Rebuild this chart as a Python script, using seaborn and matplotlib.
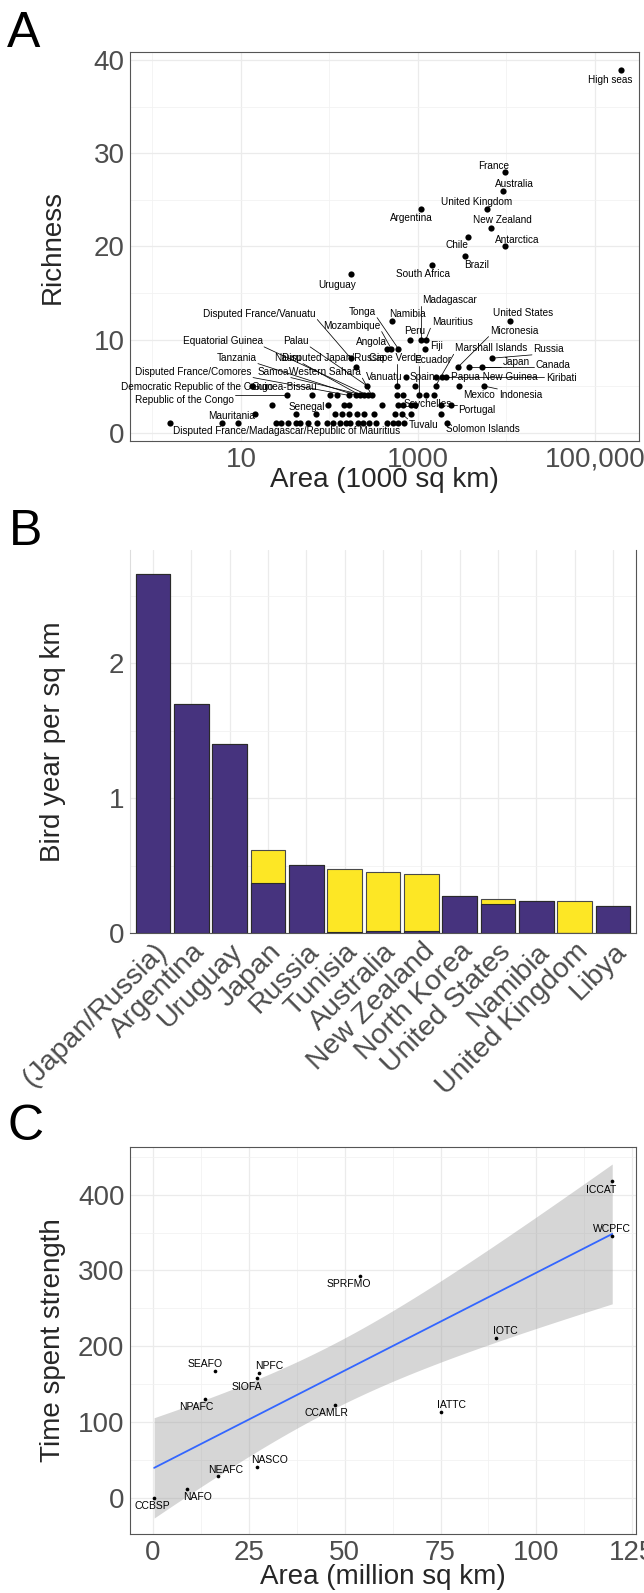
import numpy as np
import pandas as pd
import matplotlib
matplotlib.use("Agg")
import matplotlib.pyplot as plt
from matplotlib.ticker import FixedLocator, NullFormatter
import seaborn as sns

# ---------------- panel A: richness vs area (1000 sq km) ----------------
area_a = [1.58, 6.17, 9.33, 25.1, 28.2, 33.9, 41.7, 46.8, 57.5, 72.4, 93.3, 110, 132, 155, 170,
          209, 240, 282, 339, 447, 525, 589, 692, 2138,
          14.5, 41.7, 70.8, 117, 138, 166, 204, 245, 316, 550, 661, 832, 1820,
          22.4, 95.5, 145, 166, 398, 589, 676, 832, 933, 1820, 2399,
          33.1, 63.1, 102, 123, 166, 200, 224, 245, 275, 302, 575, 676, 1023, 1230, 1514,
          13.2, 269, 575, 933, 1585, 2951, 5623,
          741, 1585, 1862, 2089,
          200, 2818, 3802, 5370,
          174, 6918,
          447, 501, 603, 1202,
          813, 1096, 1230,
          513, 10965,
          174, 1429, 3388, 9772, 3715, 6761, 1072, 6026, 9120, 9772, 199526]
rich_a = [1] * 24 + [2] * 13 + [3] * 11 + [4] * 15 + [5] * 7 + [6] * 4 + [7] * 4 + [8] * 2 \
         + [9] * 4 + [10] * 3 + [12] * 2 + [17, 18, 19, 20, 21, 22, 24, 24, 26, 28, 39]

lab_name = ["High seas", "France", "Australia", "United Kingdom", "Argentina", "New Zealand",
            "Chile", "Antarctica", "Brazil", "South Africa", "Uruguay", "Madagascar",
            "Disputed France/Vanuatu", "Tonga", "Namibia", "United States", "Mauritius",
            "Mozambique", "Peru", "Micronesia", "Equatorial Guinea", "Palau", "Angola", "Fiji",
            "Marshall Islands", "Russia", "Tanzania", "Nauru", "Disputed Japan/Russia",
            "Cape Verde", "Ecuador", "Japan", "Canada", "Disputed France/Comores", "Samoa",
            "Western Sahara", "Vanuatu", "Spain", "Papua New Guinea", "Kiribati",
            "Democratic Republic of the Congo", "Guinea-Bissau", "Mexico", "Indonesia",
            "Republic of the Congo", "Seychelles", "Senegal", "Portugal", "Mauritania",
            "Tuvalu", "Solomon Islands", "Disputed France/Madagascar/Republic of Mauritius"]
lab_area = [199526, 9772, 9120, 6026, 1072, 6761, 3715, 9772, 3388, 1429, 174, 1096,
            174, 603, 513, 10965, 1230, 501, 813, 2818, 275, 269, 447, 1202,
            1585, 6918, 200, 224, 200, 575, 1023, 3802, 5370, 166, 245,
            302, 741, 1585, 1862, 2089, 13.2, 63.1, 2951, 5623,
            33.1, 1820, 95.5, 2399, 14.5, 661, 2138, 1.58]
lab_rich = [39, 28, 26, 24, 24, 22, 21, 20, 19, 18, 17, 10,
            8, 9, 12, 12, 10, 9, 10, 7, 4, 5, 9, 9,
            5, 8, 4, 4, 7, 5, 4, 7, 7, 4, 4,
            4, 6, 6, 6, 6, 5, 4, 5, 5,
            4, 3, 3, 3, 2, 2, 1, 1]
# where ggrepel put each label
lab_tx = [150000, 7244, 12303, 4571, 851, 9120, 2754, 13183, 4677, 1148, 123, 2291,
          16.2, 234, 759, 15488, 2455, 178, 933, 12303, 6.2, 41.7, 302, 1622,
          6761, 30200, 8.9, 33.9, 110, 550, 1479, 12882, 33884, 2.9, 23.4,
          89, 417, 1122, 7244, 41687, 3.2, 30.9, 4898, 14454,
          2.3, 1288, 55, 4677, 7.9, 1175, 5495, 32.4]
lab_ty = [37.85, 28.7, 26.7, 24.8, 23.1, 22.8, 20.2, 20.75, 17.96, 17.06, 15.9, 14.3,
          12.8, 13.0, 12.76, 12.9, 11.86, 11.5, 10.96, 10.96, 9.86, 9.86, 9.78, 9.35,
          9.06, 9.0, 8.06, 8.06, 8.06, 8.06, 7.8, 7.6, 7.3, 6.56, 6.56,
          6.5, 6.0, 6.0, 6.0, 5.84, 4.95, 4.95, 4.05, 4.05,
          3.5, 3.04, 2.8, 2.44, 1.83, 0.83, 0.36, 0.2]

# ---------------- panel B: bird year per sq km ----------------
b_names = ["(Japan/Russia)", "Argentina", "Uruguay", "Japan", "Russia", "Tunisia", "Australia",
           "New Zealand", "North Korea", "United States", "Namibia", "United Kingdom", "Libya"]
b_total = [2.66, 1.70, 1.40, 0.614, 0.505, 0.475, 0.452, 0.44, 0.274, 0.25, 0.239, 0.234, 0.199]
b_purple = [2.66, 1.70, 1.40, 0.371, 0.505, 0.008, 0.018, 0.012, 0.274, 0.216, 0.239, 0.0, 0.199]

# ---------------- panel C: RFMO time spent vs area ----------------
c_names = ["CCBSP", "NAFO", "NEAFC", "NASCO", "NPAFC", "SEAFO", "SIOFA", "NPFC", "CCAMLR",
           "IATTC", "IOTC", "SPRFMO", "ICCAT", "WCPFC"]
c_area = [0.3, 8.8, 16.9, 27.1, 13.5, 16.3, 27.1, 27.7, 47.4, 75.0, 89.5, 53.9, 119.8, 119.8]
c_time = [0, 12, 28, 40, 130, 167, 158, 164, 122, 113, 211, 293, 418, 346]
c_tx = [-0.2, 11.6, 19.0, 30.3, 11.2, 13.6, 24.6, 30.3, 45.2, 77.8, 92.0, 51.1, 116.8, 119.8]
c_ty = [-10.6, 1.3, 37, 50.3, 119.6, 177, 146, 173.5, 111.7, 122.8, 220.3, 281.7, 406.6, 354.6]

sns.set_style("white")
plt.rcParams["font.family"] = ["Liberation Sans", "DejaVu Sans"]

W, H = 644, 1593
fig = plt.figure(figsize=(W / 100, H / 100), dpi=100)


def rect(l, t, r, b):
    return [l / W, 1 - b / H, (r - l) / W, (b - t) / H]


def style(ax):
    ax.set_facecolor("white")
    ax.grid(which="major", color="#EBEBEB", lw=0.9)
    ax.grid(which="minor", color="#F2F2F2", lw=0.6)
    ax.set_axisbelow(True)
    for s in ax.spines.values():
        s.set_color("#555555")
        s.set_linewidth(0.8)
    ax.tick_params(which="major", length=3, width=0.7, color="#333333",
                   labelsize=20, labelcolor="#4D4D4D", pad=1)
    ax.tick_params(which="minor", length=0)


def add_segments(ax, texts, px, py, min_len=5):
    fig.canvas.draw()
    r = fig.canvas.get_renderer()
    inv = ax.transData.inverted()
    for t, x, y in zip(texts, px, py):
        bb = t.get_window_extent(r)
        p = ax.transData.transform((x, y))
        cx = min(max(p[0], bb.x0 - 1.5), bb.x1 + 1.5)
        cy = min(max(p[1], bb.y0 - 1.0), bb.y1 + 1.0)
        if np.hypot(cx - p[0], cy - p[1]) > min_len:
            q = inv.transform((cx, cy))
            ax.plot([x, q[0]], [y, q[1]], color="black", lw=0.55, zorder=2)


# ---- A ----
axA = fig.add_axes(rect(130, 52, 639, 441))
style(axA)
dfA = pd.DataFrame({"area": area_a, "rich": rich_a})
sns.scatterplot(data=dfA, x="area", y="rich", color="black", s=20, linewidth=0, ax=axA, zorder=3)
axA.set_xscale("log")
axA.set_xlim(10 ** -0.254, 10 ** 5.5)
axA.set_ylim(-0.9, 40.9)
axA.xaxis.set_major_locator(FixedLocator([10, 1000, 100000]))
axA.set_xticklabels(["10", "1000", "100,000"])
axA.xaxis.set_minor_locator(FixedLocator([1, 100, 10000]))
axA.xaxis.set_minor_formatter(NullFormatter())
axA.yaxis.set_major_locator(FixedLocator([0, 10, 20, 30, 40]))
axA.yaxis.set_minor_locator(FixedLocator([5, 15, 25, 35]))
axA.set_xlabel("Area (1000 sq km)", fontsize=20, va="center")
axA.xaxis.set_label_coords(0.5, -0.100)
axA.set_ylabel("Richness", fontsize=20, va="center")
axA.yaxis.set_label_coords(-0.151, 0.5)
textsA = [axA.text(x, y, n, ha="center", va="center", fontsize=7.2, color="black", zorder=4)
          for n, x, y in zip(lab_name, lab_tx, lab_ty)]

# ---- B ----
axB = fig.add_axes(rect(130, 550, 636, 933))
style(axB)
dfB = pd.DataFrame({"country": b_names, "total": b_total, "purple": b_purple})
sns.barplot(data=dfB, x="country", y="total", color="#FDE725", saturation=1, width=0.9,
            edgecolor="#4a4a4a", linewidth=0.8, ax=axB, zorder=2)
sns.barplot(data=dfB, x="country", y="purple", color="#46337E", saturation=1, width=0.9,
            edgecolor="#2a2a2a", linewidth=0.8, ax=axB, zorder=3)
axB.set_xlim(-0.6, 12.6)
axB.set_ylim(0, 2.84)
axB.yaxis.set_major_locator(FixedLocator([0, 1, 2]))
axB.yaxis.set_minor_locator(FixedLocator([0.5, 1.5, 2.5]))
axB.xaxis.grid(True, which="major", color="#EBEBEB", lw=0.9)
axB.spines["top"].set_visible(False)
axB.spines["left"].set_color("#DDDDDD")
axB.set_xlabel("")
axB.set_ylabel("Bird year per sq km", fontsize=20, va="center")
axB.yaxis.set_label_coords(-0.152, 0.5)
axB.set_xticks(range(len(b_names)))
axB.set_xticklabels(b_names, rotation=45, ha="right", va="top", rotation_mode="anchor",
                    fontsize=20.5, color="#4D4D4D")

# ---- C ----
axC = fig.add_axes(rect(130, 1147, 636, 1534))
style(axC)
dfC = pd.DataFrame({"area": c_area, "time": c_time})
slope, icpt = np.polyfit(dfC["area"], dfC["time"], 1)
n = len(dfC)
resid = dfC["time"] - (icpt + slope * dfC["area"])
s_err = np.sqrt((resid ** 2).sum() / (n - 2))
mx = dfC["area"].mean()
sxx = ((dfC["area"] - mx) ** 2).sum()
xs = np.linspace(dfC["area"].min(), dfC["area"].max(), 100)
fit = icpt + slope * xs
half = 2.179 * s_err * np.sqrt(1 / n + (xs - mx) ** 2 / sxx)
axC.fill_between(xs, fit - half, fit + half, color="#999999", alpha=0.4, lw=0, zorder=2)
sns.lineplot(x=xs, y=fit, color="#3366FF", lw=1.3, ax=axC, zorder=3)
sns.scatterplot(data=dfC, x="area", y="time", color="black", s=7, linewidth=0, ax=axC, zorder=4)
for nm, x, y in zip(c_names, c_tx, c_ty):
    axC.text(x, y, nm, ha="center", va="center", fontsize=7.5, color="black", zorder=5)
axC.set_xlim(-6, 126)
axC.set_ylim(-48, 463)
axC.xaxis.set_major_locator(FixedLocator([0, 25, 50, 75, 100, 125]))
axC.xaxis.set_minor_locator(FixedLocator([12.5, 37.5, 62.5, 87.5, 112.5]))
axC.yaxis.set_major_locator(FixedLocator([0, 100, 200, 300, 400]))
axC.yaxis.set_minor_locator(FixedLocator([-50, 50, 150, 250, 350, 450]))
axC.set_xlabel("Area (million sq km)", fontsize=20, va="center")
axC.xaxis.set_label_coords(0.5, -0.111)
axC.set_ylabel("Time spent strength", fontsize=20, va="center")
axC.yaxis.set_label_coords(-0.152, 0.5)

# panel letters
fig.text(7 / W, 1 - 47 / H, "A", fontsize=36, color="black")
fig.text(9 / W, 1 - 545 / H, "B", fontsize=36, color="black")
fig.text(7 / W, 1 - 1140 / H, "C", fontsize=36, color="black")

add_segments(axA, textsA, lab_area, lab_rich)

fig.savefig("out.png", dpi=100)
